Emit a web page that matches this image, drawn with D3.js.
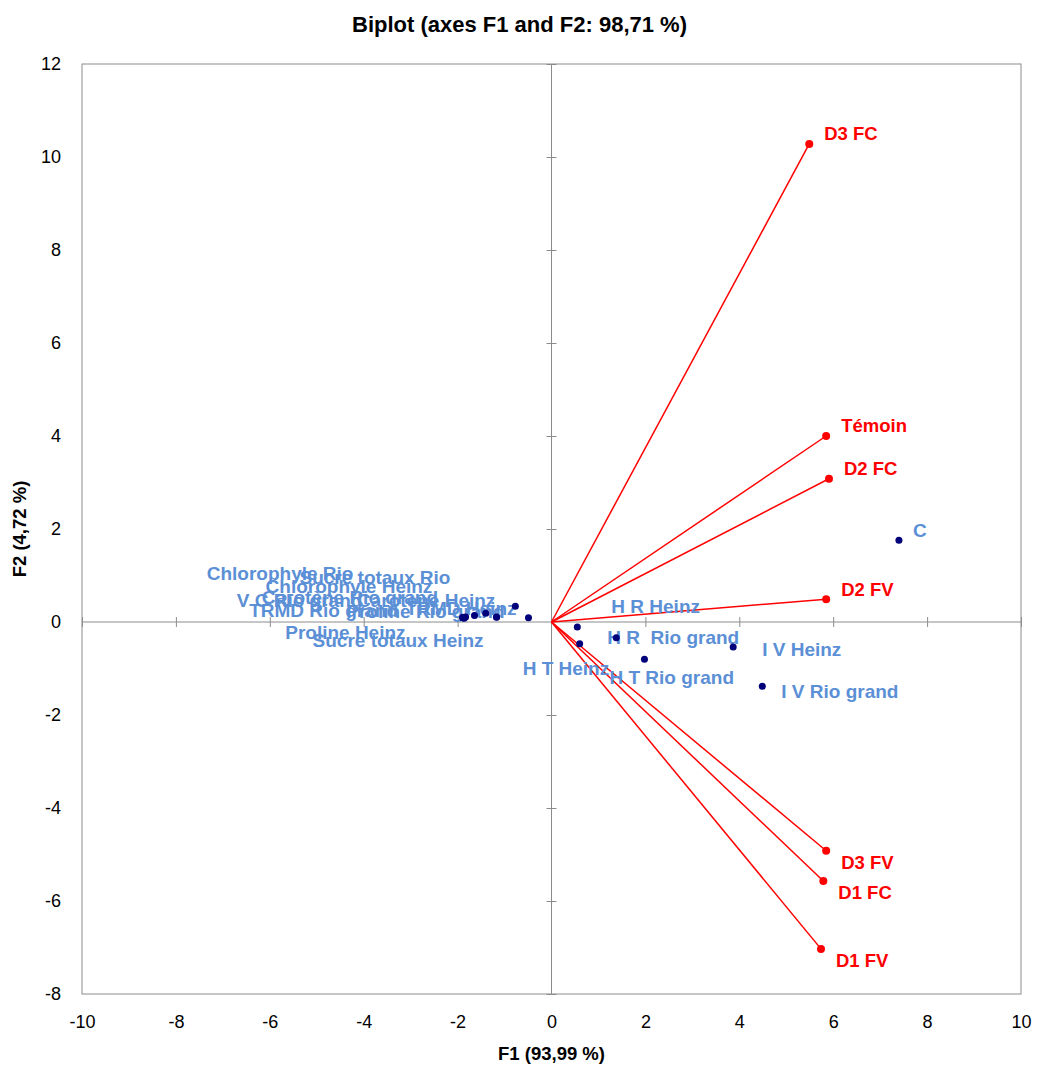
<!DOCTYPE html>
<html>
<head>
<meta charset="utf-8">
<script src="https://cdn.jsdelivr.net/npm/d3@7"></script>
<style>
  body { margin: 0; background: #fff; }
  svg { font-family: "Liberation Sans", Arial, sans-serif; }
</style>
</head>
<body>
<svg id="biplot"></svg>
<script>
// ---- data ----
var xTicks = [-10, -8, -6, -4, -2, 0, 2, 4, 6, 8, 10];
var yTicks = [-8, -6, -4, -2, 0, 2, 4, 6, 8, 10, 12];

// variables (red vectors)
var varNames = ["D3 FC", "Témoin", "D2 FC", "D2 FV", "D3 FV", "D1 FC", "D1 FV"];
var varF1 = [5.49, 5.85, 5.91, 5.85, 5.85, 5.79, 5.74];
var varF2 = [10.28, 4.00, 3.08, 0.49, -4.92, -5.57, -7.03];

// observations (navy points)
var obsNames = ["Chlorophyle Rio", "Sucre totaux Rio", "Chlorophyle Heinz", "V C Rio grand",
    "Carotène Rio grand", "Carotène Heinz", "TRMD Rio grand", "Proline Rio grand", "TRMD Heinz",
    "Proline Heinz", "Sucre totaux Heinz",
    "C", "I V Heinz", "I V Rio grand", "H T Rio grand", "H R  Rio grand", "H T Heinz", "H R Heinz"];
var obsF1 = [-1.89, -1.64, -1.83, -1.89, -1.40, -0.77, -1.86, -1.17, -0.49, -1.88, -1.17,
    7.40, 3.87, 4.49, 1.98, 1.38, 0.60, 0.55];
var obsF2 = [0.09, 0.14, 0.11, 0.10, 0.19, 0.34, 0.08, 0.11, 0.09, 0.09, 0.10,
    1.76, -0.54, -1.38, -0.80, -0.34, -0.47, -0.11];

// label placement (pixel offsets from the point, like the moved labels in the original)
var obsLabelDx = [-256, -175, -200, -226, -224, -20, -215, 8, -12, -178, -184,
    14, 29, 19, -35, -9, -57, 34];
var obsLabelDy = [-44, -38, -31, -17, -16, -6, -8, -6, -9, 15, 23,
    -10, 2, 5, 18, 0, 24, -21];
var obsLabelAnchor = ["start", "start", "start", "start", "start", "end", "start", "end", "end", "start", "start",
    "start", "start", "start", "start", "start", "start", "start"];

// ---- layout ----
var svgWidth = 1039, svgHeight = 1071;
var plot = { left: 82, right: 1021, top: 64, bottom: 994 };

var svg = d3.select('#biplot')
    .attr("width", svgWidth)
    .attr("height", svgHeight);

var x = d3.scaleLinear().domain([-10, 10]).range([plot.left, plot.right]);
var y = d3.scaleLinear().domain([-8, 12]).range([plot.bottom, plot.top]);

var axisColor = "#8c8c8c";
var plainNum = function(d) { return String(d); }; // hyphen minus like the original

// plot frame
svg.append("rect")
    .attr("x", plot.left)
    .attr("y", plot.top)
    .attr("width", plot.right - plot.left)
    .attr("height", plot.bottom - plot.top)
    .attr("fill", "none")
    .attr("stroke", axisColor)
    .attr("stroke-width", 1);

// tick labels on the left and bottom edges
var yAxis = svg.append("g")
    .attr("transform", "translate(" + plot.left + ",0)")
    .call(d3.axisLeft(y).tickValues(yTicks).tickFormat(plainNum).tickSize(0).tickPadding(21));
var xAxis = svg.append("g")
    .attr("transform", "translate(0," + plot.bottom + ")")
    .call(d3.axisBottom(x).tickValues(xTicks).tickFormat(plainNum).tickSize(0).tickPadding(21));
[xAxis, yAxis].forEach(function(g) {
    g.select(".domain").remove();
    g.selectAll("text")
        .attr("font-size", 18)
        .attr("font-family", "Liberation Sans, Arial, sans-serif")
        .attr("fill", "#000");
});

// zero lines with cross ticks
var zx = svg.append("g").attr("transform", "translate(0," + y(0) + ")");
zx.append("line")
    .attr("x1", plot.left).attr("x2", plot.right)
    .attr("stroke", axisColor);
[d3.axisTop(x), d3.axisBottom(x)].forEach(function(ax) {
    var g = zx.append("g").call(ax.tickValues(xTicks.filter(function(d) { return d !== 0; })).tickSize(5).tickFormat(""));
    g.select(".domain").remove();
    g.selectAll("line").attr("stroke", axisColor);
});

var zy = svg.append("g").attr("transform", "translate(" + x(0) + ",0)");
zy.append("line")
    .attr("y1", plot.top).attr("y2", plot.bottom)
    .attr("stroke", axisColor);
[d3.axisLeft(y), d3.axisRight(y)].forEach(function(ax) {
    var g = zy.append("g").call(ax.tickValues(yTicks.filter(function(d) { return d !== 0; })).tickSize(5).tickFormat(""));
    g.select(".domain").remove();
    g.selectAll("line").attr("stroke", axisColor);
});

// red vectors
var vars = varNames.map(function(n, i) { return { name: n, f1: varF1[i], f2: varF2[i] }; });

svg.selectAll(".vec")
    .data(vars)
    .enter()
    .append("line")
    .attr("class", "vec")
    .attr("x1", x(0)).attr("y1", y(0))
    .attr("x2", function(d) { return x(d.f1); })
    .attr("y2", function(d) { return y(d.f2); })
    .attr("stroke", "#ff0000")
    .attr("stroke-width", 1.5);

svg.selectAll(".vecdot")
    .data(vars)
    .enter()
    .append("circle")
    .attr("class", "vecdot")
    .attr("cx", function(d) { return x(d.f1); })
    .attr("cy", function(d) { return y(d.f2); })
    .attr("r", 4)
    .attr("fill", "#ff0000");

// above-right for positive F2, below-right for negative
svg.selectAll(".veclab")
    .data(vars)
    .enter()
    .append("text")
    .attr("class", "veclab")
    .attr("x", function(d) { return x(d.f1) + 15; })
    .attr("y", function(d) { return y(d.f2) + (d.f2 >= 0 ? -10 : 12); })
    .attr("dy", "0.35em")
    .attr("font-size", 18.5)
    .attr("font-weight", "bold")
    .attr("fill", "#ff0000")
    .text(function(d) { return d.name; });

// observations
var obs = obsNames.map(function(n, i) {
    return { name: n, f1: obsF1[i], f2: obsF2[i], dx: obsLabelDx[i], dy: obsLabelDy[i], anchor: obsLabelAnchor[i] };
});

svg.selectAll(".obslab")
    .data(obs)
    .enter()
    .append("text")
    .attr("class", "obslab")
    .attr("x", function(d) { return x(d.f1) + d.dx; })
    .attr("y", function(d) { return y(d.f2) + d.dy; })
    .attr("dy", "0.35em")
    .attr("text-anchor", function(d) { return d.anchor; })
    .attr("font-size", 19)
    .attr("font-weight", "bold")
    .attr("fill", "#5b8fd6")
    .style("white-space", "pre")
    .text(function(d) { return d.name; });

svg.selectAll(".obsdot")
    .data(obs)
    .enter()
    .append("circle")
    .attr("class", "obsdot")
    .attr("cx", function(d) { return x(d.f1); })
    .attr("cy", function(d) { return y(d.f2); })
    .attr("r", 3.5)
    .attr("fill", "#00007a");

// titles
svg.append("text")
    .attr("x", svgWidth / 2)
    .attr("y", 24)
    .attr("dy", "0.35em")
    .attr("text-anchor", "middle")
    .attr("font-size", 22)
    .attr("font-weight", "bold")
    .text("Biplot (axes F1 and F2: 98,71 %)");

svg.append("text")
    .attr("x", x(0))
    .attr("y", 1054)
    .attr("dy", "0.35em")
    .attr("text-anchor", "middle")
    .attr("font-size", 18.5)
    .attr("font-weight", "bold")
    .text("F1 (93,99 %)");

svg.append("text")
    .attr("transform", "translate(20," + ((plot.top + plot.bottom) / 2) + ") rotate(-90)")
    .attr("dy", "0.35em")
    .attr("text-anchor", "middle")
    .attr("font-size", 18.5)
    .attr("font-weight", "bold")
    .text("F2 (4,72 %)");
</script>
</body>
</html>
